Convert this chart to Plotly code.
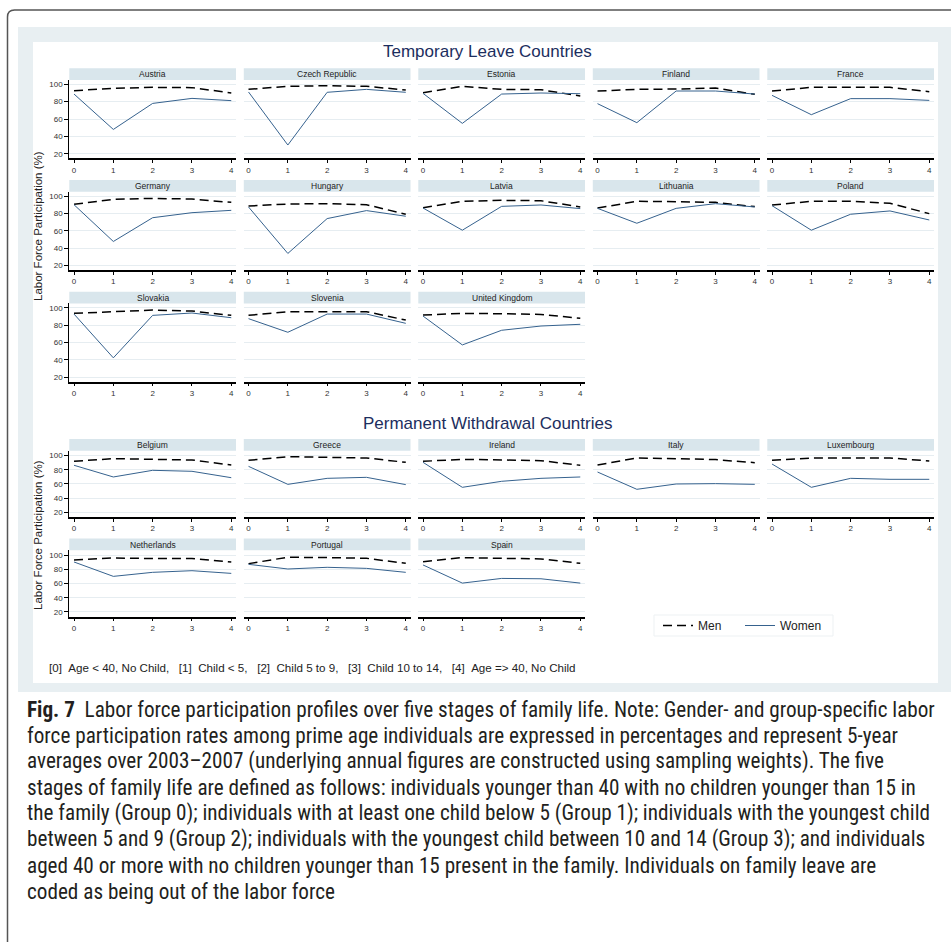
import plotly.graph_objects as go

# ---------------- data ----------------
stages = [0, 1, 2, 3, 4]
stage_labels = ["0", "1", "2", "3", "4"]
y_ticks = [20, 40, 60, 80, 100]

temporary_countries = ["Austria", "Czech Republic", "Estonia", "Finland", "France",
                       "Germany", "Hungary", "Latvia", "Lithuania", "Poland",
                       "Slovakia", "Slovenia", "United Kingdom"]
temporary_men = [
    [92.7, 95.4, 96.5, 96.2, 90.0],
    [94.2, 97.7, 98.5, 97.7, 93.5],
    [90.4, 97.7, 94.2, 93.8, 86.5],
    [92.3, 94.2, 94.6, 95.8, 88.5],
    [92.3, 96.5, 96.5, 96.5, 91.5],
    [90.4, 96.2, 97.3, 96.5, 92.7],
    [88.5, 90.8, 91.2, 90.0, 79.0],
    [86.6, 93.9, 95.0, 94.6, 87.4],
    [86.2, 93.9, 93.5, 92.7, 87.8],
    [89.7, 93.9, 93.9, 91.6, 79.7],
    [93.5, 95.8, 97.3, 96.2, 91.2],
    [91.2, 95.4, 95.4, 95.4, 85.8],
    [91.6, 93.5, 93.1, 92.3, 87.8],
]
temporary_women = [
    [88.8, 48.0, 78.0, 83.8, 81.2],
    [91.2, 30.0, 90.8, 94.2, 90.8],
    [89.6, 55.0, 88.8, 90.0, 89.2],
    [77.7, 55.8, 92.3, 92.3, 88.8],
    [87.3, 65.0, 83.5, 83.5, 81.5],
    [90.0, 47.6, 75.0, 80.8, 83.5],
    [87.4, 33.8, 74.0, 83.2, 76.7],
    [86.2, 60.6, 88.1, 89.7, 85.5],
    [85.8, 68.6, 85.8, 91.2, 87.4],
    [88.9, 60.6, 79.0, 82.8, 72.4],
    [92.7, 42.2, 91.2, 93.9, 88.5],
    [87.4, 71.7, 92.7, 92.7, 82.0],
    [90.4, 57.1, 74.0, 78.9, 80.9],
]

permanent_countries = ["Belgium", "Greece", "Ireland", "Italy", "Luxembourg",
                       "Netherlands", "Portugal", "Spain"]
permanent_men = [
    [92.0, 95.8, 94.8, 93.9, 86.8],
    [93.4, 98.6, 97.6, 96.7, 90.6],
    [92.0, 94.8, 93.9, 92.9, 86.4],
    [86.8, 96.7, 95.8, 94.4, 90.1],
    [93.4, 96.7, 96.7, 96.7, 92.5],
    [93.4, 96.2, 95.3, 95.3, 90.5],
    [88.2, 97.2, 96.7, 95.7, 88.6],
    [91.0, 96.7, 95.7, 94.8, 88.6],
]
permanent_women = [
    [86.4, 69.9, 79.3, 77.9, 68.9],
    [84.9, 59.5, 68.0, 69.4, 59.1],
    [90.6, 55.3, 63.8, 68.0, 69.9],
    [76.9, 52.5, 60.0, 60.5, 59.5],
    [88.2, 55.3, 68.0, 66.6, 66.6],
    [90.5, 70.2, 75.9, 78.2, 74.4],
    [87.2, 80.6, 83.0, 81.5, 75.9],
    [86.3, 60.7, 67.3, 66.8, 60.7],
]

title_top = "Temporary Leave Countries"
title_bottom = "Permanent Withdrawal Countries"
y_title = "Labor Force Participation (%)"
note_text = ("[0]\u00a0\u00a0Age < 40, No Child,\u00a0\u00a0\u00a0[1]\u00a0\u00a0Child < 5,\u00a0\u00a0\u00a0"
             "[2]\u00a0\u00a0Child 5 to 9,\u00a0\u00a0\u00a0[3]\u00a0\u00a0Child 10 to 14,\u00a0\u00a0\u00a0"
             "[4]\u00a0\u00a0Age => 40, No Child")
caption_lines = [
    "<b>Fig. 7</b>\u00a0\u00a0Labor force participation profiles over five stages of family life. Note: Gender- and group-specific labor",
    "force participation rates among prime age individuals are expressed in percentages and represent 5-year",
    "averages over 2003\u20132007 (underlying annual figures are constructed using sampling weights). The five",
    "stages of family life are defined as follows: individuals younger than 40 with no children younger than 15 in",
    "the family (Group 0); individuals with at least one child below 5 (Group 1); individuals with the youngest child",
    "between 5 and 9 (Group 2); individuals with the youngest child between 10 and 14 (Group 3); and individuals",
    "aged 40 or more with no children younger than 15 present in the family. Individuals on family leave are",
    "coded as being out of the labor force",
]

# ---------------- layout helpers ----------------
W, H = 951, 942
def px(x):
    return x / W
def py(y):
    return 1 - y / H

FONT = "Arial, Liberation Sans, sans-serif"
CAPTION_FONT = "Liberation Sans Narrow, Roboto Condensed, Lato, sans-serif"
WOMEN_COLOR = "#36628e"
MEN_COLOR = "#000000"
STRIP_COLOR = "#d9e6ec"
PANEL_BG = "#e8eff2"
GRID_COLOR = "#e6edf1"

col_left = [69.3 + 174.5 * i for i in range(5)]
col_w = 166.7

fig = go.Figure()
layout_axes = {}
shapes = []
annotations = []

# background panels + frame
shapes.append(dict(type="rect", xref="paper", yref="paper", x0=px(18), x1=px(951),
                   y0=py(692), y1=py(27), fillcolor=PANEL_BG, line=dict(width=0), layer="below"))
shapes.append(dict(type="rect", xref="paper", yref="paper", x0=px(33), x1=px(938),
                   y0=py(683), y1=py(42), fillcolor="white", line=dict(width=0), layer="below"))
path = (f"M {px(7.5)},{py(942)} L {px(7.5)},{py(17)} Q {px(7.5)},{py(10)} {px(14.5)},{py(10)} "
        f"L {px(951)},{py(10)}")
shapes.append(dict(type="path", xref="paper", yref="paper", path=path,
                   line=dict(color="#555555", width=1.5)))
# legend box
shapes.append(dict(type="rect", xref="paper", yref="paper", x0=px(654), x1=px(833),
                   y0=py(636), y1=py(615), fillcolor="white",
                   line=dict(color="#edf1f3", width=1), layer="below"))

panel_index = [0]

def add_section(countries, men, women, row_tops, height, yrange):
    for i, country in enumerate(countries):
        r, c = divmod(i, 5)
        panel_index[0] += 1
        k = panel_index[0]
        sfx = "" if k == 1 else str(k)
        left = col_left[c]
        top = row_tops[r]
        bottom = top + height
        xd = [px(left), px(left + col_w)]
        yd = [py(bottom), py(top)]
        first_col = c == 0
        layout_axes[f"xaxis{sfx}"] = dict(
            domain=xd, anchor=f"y{sfx}", range=[-0.12, 4.12],
            tickvals=stages, ticktext=stage_labels, ticks="outside", ticklen=3,
            tickcolor="#000", tickwidth=1, showline=True, linecolor="#000", linewidth=1.5,
            showgrid=False, zeroline=False, tickfont=dict(family=FONT, size=8, color="#333"),
            fixedrange=True)
        layout_axes[f"yaxis{sfx}"] = dict(
            domain=yd, anchor=f"x{sfx}", range=yrange, tickvals=y_ticks,
            showgrid=True, gridcolor=GRID_COLOR, gridwidth=1, zeroline=False,
            showline=first_col, linecolor="#000", linewidth=1,
            ticks="outside" if first_col else "", ticklen=4, tickcolor="#000",
            showticklabels=first_col, tickfont=dict(family=FONT, size=8, color="#333"),
            fixedrange=True)
        fig.add_trace(go.Scatter(x=stages, y=men[i], mode="lines", name="Men",
                                 line=dict(color=MEN_COLOR, width=1.5, dash="9px,5px"),
                                 xaxis=f"x{sfx}", yaxis=f"y{sfx}",
                                 showlegend=(k == 1), legendrank=1))
        fig.add_trace(go.Scatter(x=stages, y=women[i], mode="lines", name="Women",
                                 line=dict(color=WOMEN_COLOR, width=1),
                                 xaxis=f"x{sfx}", yaxis=f"y{sfx}",
                                 showlegend=(k == 1), legendrank=2))
        # strip
        shapes.append(dict(type="rect", xref="paper", yref="paper", x0=px(left), x1=px(left + col_w),
                           y0=py(top), y1=py(top - 11.7), fillcolor=STRIP_COLOR,
                           line=dict(width=0), layer="below"))
        annotations.append(dict(text=country, xref="paper", yref="paper",
                                x=px(left + col_w / 2), y=py(top - 5.6), xanchor="center",
                                yanchor="middle", showarrow=False,
                                font=dict(family=FONT, size=8.5, color="#222")))

add_section(temporary_countries, temporary_men, temporary_women,
            [80, 191.7, 303.4], 78.3, [14.7, 105.0])
add_section(permanent_countries, permanent_men, permanent_women,
            [450.7, 550.3], 66.3, [13.4, 107.0])

# titles
annotations.append(dict(text=title_top, xref="paper", yref="paper", x=px(487), y=py(52),
                        xanchor="center", yanchor="middle", showarrow=False,
                        font=dict(family=FONT, size=17, color="#1c2e5e")))
annotations.append(dict(text=title_bottom, xref="paper", yref="paper", x=px(487), y=py(423),
                        xanchor="center", yanchor="middle", showarrow=False,
                        font=dict(family=FONT, size=17, color="#1c2e5e")))
for yc in (226, 535):
    annotations.append(dict(text=y_title, xref="paper", yref="paper", x=px(38), y=py(yc),
                            xanchor="center", yanchor="middle", textangle=-90, showarrow=False,
                            font=dict(family=FONT, size=11.5, color="#222")))
annotations.append(dict(text=note_text, xref="paper", yref="paper", x=px(47), y=py(667),
                        xanchor="left", yanchor="middle", showarrow=False,
                        font=dict(family=FONT, size=11.6, color="#222")))
for i, line in enumerate(caption_lines):
    annotations.append(dict(text=line, xref="paper", yref="paper", x=px(25), y=py(709 + 26 * i),
                            xanchor="left", yanchor="middle", showarrow=False,
                            font=dict(family=CAPTION_FONT, size=21.2, color="#231f20")))

fig.update_layout(
    width=W, height=H, margin=dict(l=0, r=0, t=0, b=0),
    paper_bgcolor="white", plot_bgcolor="rgba(0,0,0,0)",
    shapes=shapes, annotations=annotations,
    showlegend=True,
    legend=dict(orientation="h", x=px(658), y=py(625.5), xanchor="left", yanchor="middle",
                bgcolor="rgba(0,0,0,0)", borderwidth=0,
                font=dict(family=FONT, size=12, color="#222"), entrywidth=37,
                itemclick=False, itemdoubleclick=False),
    **layout_axes,
)

fig.write_html("out.html", config=dict(displayModeBar=False),
               post_script="document.body.style.margin='0px';document.body.style.overflow='hidden';")
